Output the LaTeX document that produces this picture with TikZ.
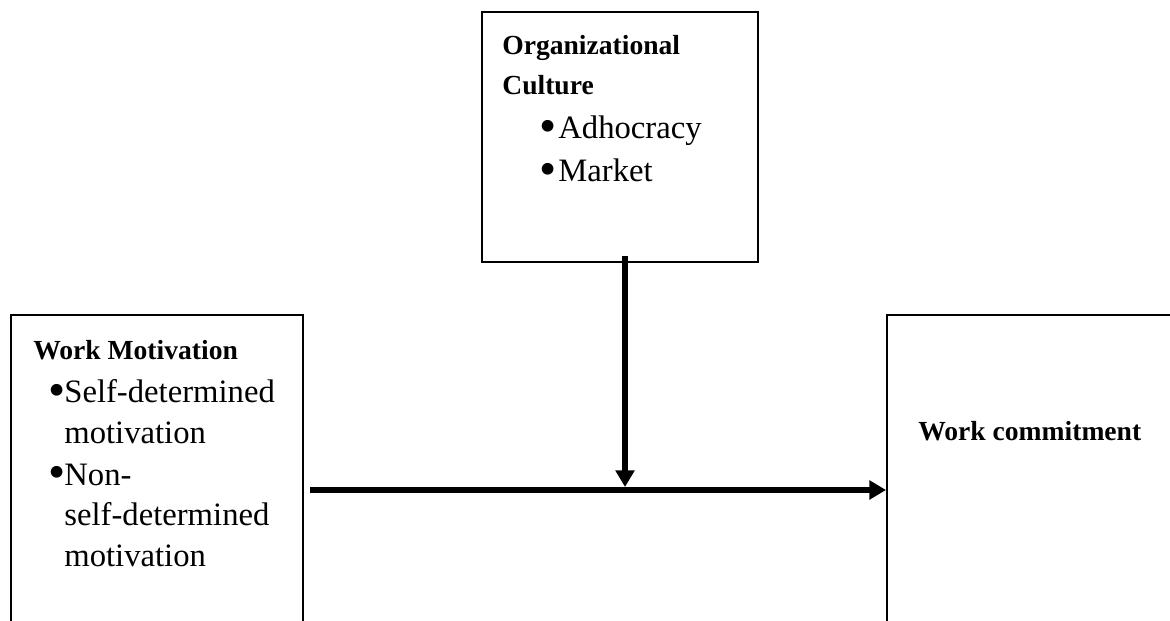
\documentclass[tikz,border=0pt]{standalone}
\usepackage{fontspec}
\usepackage{graphicx}
\setmainfont{Liberation Serif}
\usetikzlibrary{arrows.meta}

\begin{document}
\begin{tikzpicture}[x=0.02cm, y=-0.02cm,
  box/.style={draw, line width=1.1pt, inner sep=0pt},
  head/.style={anchor=base west, inner sep=0pt, font=\fontsize{15.7}{18}\selectfont\bfseries},
  item/.style={anchor=base west, inner sep=0pt, font=\fontsize{18.6}{22}\selectfont},
  flow/.style={line width=3.6pt, -{Triangle[length=9.5pt, width=10.5pt]}}]
\useasboundingbox (0, 0) rectangle (1170, 621);
\clip (0, 0) rectangle (1170, 621);

\node[box, minimum width=5.52cm, minimum height=5cm] (oc) at (620, 137) {};
\node[box, minimum width=5.84cm, minimum height=6.9cm] (wm) at (157, 487.5) {};
\node[box, minimum width=6.26cm, minimum height=6.9cm] (wc) at (1043.5, 487.5) {};

\node[head] (oc1) at (502, 55) {Organizational};
\node[head] (oc2) at (502, 95) {Culture};
\node[item] (oc3) at (558, 139) {\llap{\makebox[0.38cm][l]{\smash{\raisebox{-0.12em}{\scalebox{1.5}{\textbullet}}}}}Adhocracy};
\node[item] (oc4) at (558, 182) {\llap{\makebox[0.38cm][l]{\smash{\raisebox{-0.12em}{\scalebox{1.5}{\textbullet}}}}}Market};

\node[head] (wm1) at (33, 360) {Work Motivation};
\node[item] (wm2) at (64, 403) {\llap{\makebox[0.32cm][l]{\smash{\raisebox{-0.12em}{\scalebox{1.5}{\textbullet}}}}}Self-determined};
\node[item] (wm3) at (64, 443) {motivation};
\node[item] (wm4) at (64, 485) {\llap{\makebox[0.32cm][l]{\smash{\raisebox{-0.12em}{\scalebox{1.5}{\textbullet}}}}}Non-};
\node[item] (wm5) at (64, 525) {self-determined};
\node[item] (wm6) at (64, 566) {motivation};

\node[head] (wc1) at (918, 440) {Work commitment};

\coordinate (start) at (310, 490);
\coordinate (join) at (625, 487);

\draw (start) to (wc.west |- start) [flow];
\draw ([yshift=0.14cm]oc.south -| join) to (join) [flow];

\end{tikzpicture}
\end{document}
